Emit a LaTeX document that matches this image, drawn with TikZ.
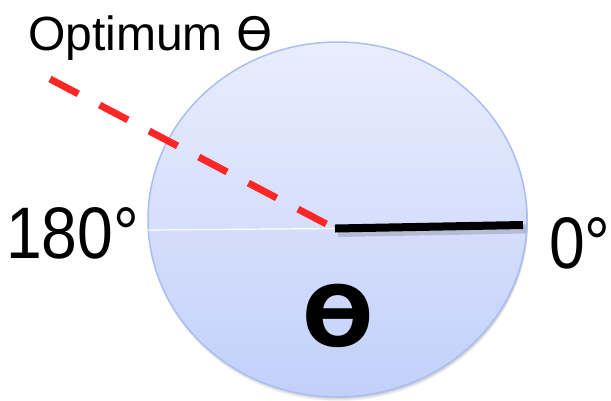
\documentclass[tikz,border=0pt]{standalone}
\usepackage{fontspec}
\setmainfont{Liberation Sans}
\newfontfamily\thetafont{DejaVu Sans}
\usetikzlibrary{calc}

\definecolor{dialtop}{RGB}{233,238,253}
\definecolor{dialbot}{RGB}{194,208,250}
\definecolor{dialrim}{RGB}{170,190,245}
\definecolor{optred}{RGB}{255,38,38}

\tikzset{
  bigtext/.style={inner sep=0pt,anchor=base west,font=\fontsize{#1}{#1}\selectfont},
}
\newcommand{\narrow}[1]{\scalebox{0.88}[1]{#1}}

\begin{document}
\begin{tikzpicture}[x=1pt,y=-1pt]
  \useasboundingbox (0,0) rectangle (611,400);
  \coordinate (c) at (337.5,219.5);
  \coordinate (hub) at (335,228.5);
  \coordinate (west) at (148,230);
  \coordinate (east) at (523,225);
  \coordinate (opt) at (50,79);
  % soft shadow under the dial
  \foreach \s in {1,2,3,4}
    \fill[black,opacity=0.05] ($(c)+(1,\s)$) ellipse (189.5 and 177.5);
  \shade[top color=dialtop,bottom color=dialbot,draw=dialrim,line width=1.5pt]
    (c) ellipse (189.5 and 177.5);
  \draw[white,line width=1.2pt] (west) -- (hub);
  \draw[optred,line width=7pt,dash pattern=on 32pt off 24pt] (opt) -- (hub);
  \draw[black,opacity=0.15,line width=9pt] ($(hub)+(3,4)$) -- ($(east)+(3,4)$);
  \draw[black,line width=8pt] (hub) -- (east);
  \node[bigtext=48] (opttext) at (28,50) {Optimum {\thetafont\fontsize{46}{46}\selectfont ϴ}};
  \node[bigtext=73] (deg180) at (6,258) {\narrow{180°}};
  \node[bigtext=73] (deg0) at (549,268) {\narrow{0°}};
  \node[inner sep=0pt,font=\fontsize{84}{84}\selectfont\thetafont\bfseries] (theta) at (338,316) {ϴ};
\end{tikzpicture}
\end{document}
